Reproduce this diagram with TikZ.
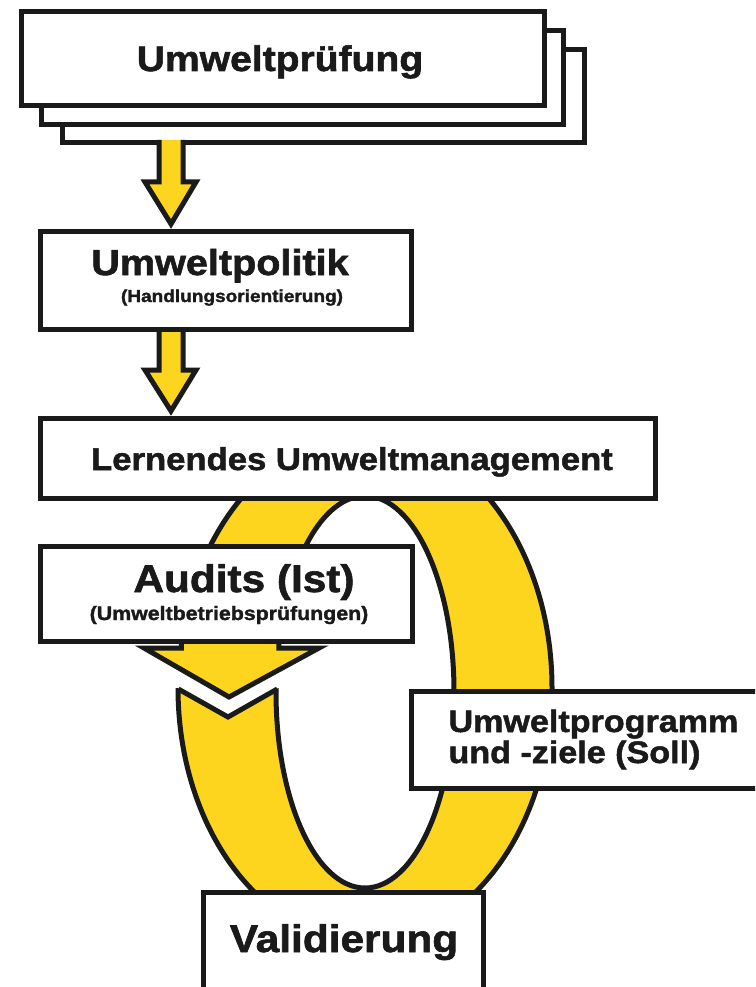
\documentclass[tikz,border=0pt]{standalone}
\usepackage{fontspec}
\newfontfamily\hv{Liberation Sans}[FakeStretch=1.1,BoldFeatures={FakeBold=1.6}]
\definecolor{ylw}{RGB}{253,212,30}
\definecolor{blk}{RGB}{26,26,26}
\begin{document}
\begin{tikzpicture}[x=1pt,y=-1pt,line width=5pt,line join=miter,
  box/.style={draw=blk,fill=white,line width=5pt,inner sep=0pt},
  txt/.style={inner sep=0pt,anchor=base,text=blk,font=\hv\bfseries},
  ltxt/.style={txt,anchor=base west},
  yarrow/.style={fill=ylw,draw=blk,line width=5pt,line join=miter}]
\useasboundingbox (0,0) rectangle (755,987);
\clip (0,0) rectangle (755,987);

% top stack
\node[box,minimum width=522pt,minimum height=93pt] (st3) at (323,96.5) {};
\node[box,minimum width=522pt,minimum height=94pt] (st2) at (302,78) {};
\node[box,minimum width=523pt,minimum height=94pt] (st1) at (282.5,59) {};
\node[txt] (t1) at (280,71) {\fontsize{35.5}{40}\selectfont Umweltprüfung};

% yellow arrows
\filldraw[yarrow] (159,140) -- (159,182) -- (145,182) -- (171,224) -- (196,182) -- (183,182) -- (183,140);
\filldraw[yarrow] (159,325) -- (159,370) -- (145,370) -- (171,411) -- (196,370) -- (183,370) -- (183,325);

% box Umweltpolitik
\node[box,minimum width=371pt,minimum height=98pt] (pol) at (225.5,280) {};
\node[txt] (t2) at (220,275) {\fontsize{36}{40}\selectfont Umweltpolitik};
\node[txt] (t3) at (232,302) {\fontsize{17.3}{20}\selectfont (Handlungsorientierung)};

% ring
\filldraw[fill=ylw,draw=blk,even odd rule] (365,688) ellipse [x radius=187,y radius=253] (365,692) ellipse [x radius=89,y radius=196];
\fill[white] (160,643) -- (300,643) -- (300,687) -- (278,688) -- (228,717) -- (178,688) -- (160,687) -- cycle;
\draw[blk] (178.3,689) -- (228,717) -- (277.3,689);
\filldraw[yarrow] (181.4,636) -- (181.4,648) -- (144,648) -- (229,697) -- (319,648) -- (278.9,648) -- (278.9,636);

% box Lernendes
\node[box,minimum width=615pt,minimum height=80pt] (lern) at (347.5,458) {};
\node[txt] (t4) at (352,470) {\fontsize{31.5}{36}\selectfont Lernendes Umweltmanagement};

% box Audits
\node[box,minimum width=372pt,minimum height=95pt] (aud) at (226,593.5) {};
\node[txt] (t5) at (244,592) {\fontsize{38.5}{42}\selectfont Audits (Ist)};
\node[txt] (t6) at (229,620) {\fontsize{19.4}{22}\selectfont (Umweltbetriebsprüfungen)};

% box Umweltprogramm
\node[box,minimum width=389pt,minimum height=97pt] (prog) at (605.5,739.5) {};
\node[ltxt] (t7) at (446,732) {\fontsize{31}{36}\selectfont Umweltprogramm};
\node[ltxt] (t8) at (446,763) {\fontsize{31}{36}\selectfont und -ziele (Soll)};

% box Validierung
\node[box,minimum width=280pt,minimum height=108pt] (val) at (343,946) {};
\node[txt] (t9) at (344,952) {\fontsize{38.5}{42}\selectfont Validierung};
\end{tikzpicture}
\end{document}
